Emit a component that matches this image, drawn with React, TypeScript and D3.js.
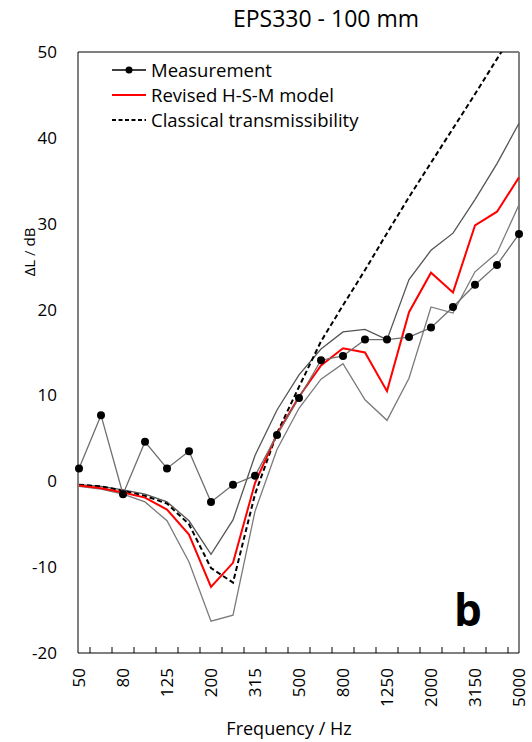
import React from 'react';
import * as d3 from 'd3';

const bands = ['50','63','80','100','125','160','200','250','315','400','500','630','800','1000','1250','1600','2000','2500','3150','4000','5000'];
const tickLabels = ['50','80','125','200','315','500','800','1250','2000','3150','5000'];
const yTicks = [50, 40, 30, 20, 10, 0, -10, -20];

const measurement = [1.5, 7.7, -1.5, 4.6, 1.5, 3.5, -2.4, -0.4, 0.65, 5.4, 9.7, 14.1, 14.6, 16.5, 16.5, 16.8, 17.9, 20.3, 22.9, 25.2, 28.8];
const revisedModel = [-0.5, -0.8, -1.3, -1.9, -3.3, -6.2, -12.3, -9.5, -0.2, 5.5, 9.85, 13.5, 15.5, 15.0, 10.5, 19.7, 24.3, 22.0, 29.8, 31.4, 35.4];
const classical = [-0.4, -0.6, -1.1, -1.7, -2.6, -5.0, -10.1, -11.8, -1.5, 5.6, 11.0, 16.3, 20.5, 24.6, 28.9, 33.1, 37.1, 41.1, 45.1, 49.2, 53.2];
const upperBound = [-0.4, -0.6, -1.0, -1.5, -2.4, -4.6, -8.5, -4.5, 3.0, 8.3, 12.4, 15.4, 17.4, 17.7, 16.5, 23.5, 26.9, 28.9, 32.8, 37.0, 41.7];
const lowerBound = [-0.6, -0.9, -1.5, -2.4, -4.6, -9.4, -16.3, -15.6, -3.5, 3.7, 8.5, 11.9, 13.7, 9.5, 7.1, 12.0, 20.3, 19.6, 24.4, 26.6, 32.2];

const FONT = "'Open Sans', 'Noto Sans', sans-serif";

export default function App() {
  const left = 79, right = 519, top = 52, bottom = 653;
  const x = d3.scalePoint<string>().domain(bands).range([left, right]);
  const y = d3.scaleLinear().domain([-20, 50]).range([bottom, top]);
  const step = x.step();
  const mk = (vals: number[]) =>
    d3.line<number>().x((_, i) => x(bands[i]) as number).y((d) => y(d))(vals) as string;

  return (
    <svg width={532} height={742} style={{ position: 'absolute', left: 0, top: 0, background: '#fff' }} fontFamily={FONT}>
      <defs>
        <clipPath id="plot">
          <rect x={left - 6} y={top} width={right - left + 12} height={bottom - top} />
        </clipPath>
      </defs>
      <text x={326} y={27} textAnchor="middle" fontSize={23} fill="#000">EPS330 - 100 mm</text>

      {/* frame */}
      <line x1={left - 1} x2={right} y1={top} y2={top} stroke="#000" strokeWidth={1} />
      <line x1={right} x2={right} y1={top} y2={bottom} stroke="#808080" strokeWidth={2} />
      <line x1={left - 1} x2={left - 1} y1={top} y2={bottom} stroke="#000" strokeWidth={1} />
      <line x1={left - 1} x2={right} y1={bottom} y2={bottom} stroke="#000" strokeWidth={1} />
      {bands.slice(0, -1).map((b) => (
        <line key={b} x1={(x(b) as number) + step / 2} x2={(x(b) as number) + step / 2} y1={bottom} y2={bottom - 6} stroke="#000" strokeWidth={1} />
      ))}

      {/* y tick labels */}
      {yTicks.map((v) => (
        <text key={v} x={57} y={y(v) + 6} textAnchor="end" fontSize={17} fill="#000">{v}</text>
      ))}
      <text transform={`translate(35,252) rotate(-90)`} textAnchor="middle" fontSize={15} fill="#000">ΔL / dB</text>

      {/* x tick labels */}
      {tickLabels.map((t) => (
        <text key={t} transform={`translate(${(x(t) as number) + 6},668) rotate(-90)`} textAnchor="end" fontSize={17} fill="#000">{t}</text>
      ))}
      <text x={289} y={735} textAnchor="middle" fontSize={18} fill="#000">Frequency / Hz</text>

      <g clipPath="url(#plot)">
        <path d={mk(upperBound)} fill="none" stroke="#555" strokeWidth={1.3} />
        <path d={mk(lowerBound)} fill="none" stroke="#7a7a7a" strokeWidth={1.3} />
        <path d={mk(classical)} fill="none" stroke="#000" strokeWidth={2} strokeDasharray="5,3" />
        <path d={mk(revisedModel)} fill="none" stroke="#ff0000" strokeWidth={2} />
        <path d={mk(measurement)} fill="none" stroke="#6e6e6e" strokeWidth={1.3} />
        {measurement.map((v, i) => (
          <circle key={i} cx={x(bands[i]) as number} cy={y(v)} r={4} fill="#000" />
        ))}
      </g>

      {/* legend */}
      <g fontSize={18.5} fill="#000">
        <line x1={112} x2={146} y1={70} y2={70} stroke="#000" strokeWidth={1.3} />
        <circle cx={129} cy={70} r={3.5} fill="#000" />
        <text x={151} y={77}>Measurement</text>
        <line x1={112} x2={146} y1={95} y2={95} stroke="#ff0000" strokeWidth={2} />
        <text x={151} y={102}>Revised H-S-M model</text>
        <line x1={112} x2={146} y1={120} y2={120} stroke="#000" strokeWidth={2} strokeDasharray="4,2.5" />
        <text x={151} y={127}>Classical transmissibility</text>
      </g>

      <text x={468} y={626} textAnchor="middle" fontSize={44} fontWeight="bold" fill="#000">b</text>
    </svg>
  );
}
